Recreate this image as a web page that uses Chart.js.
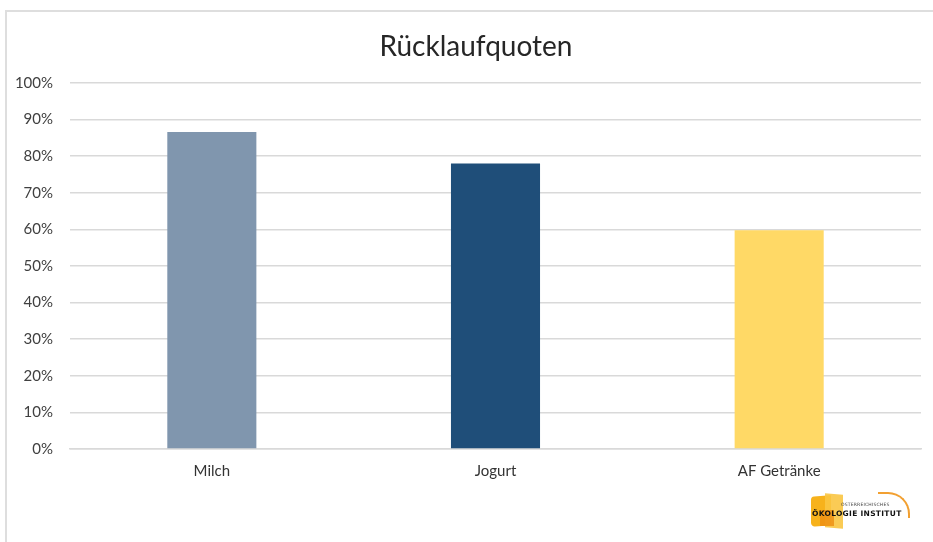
<!DOCTYPE html>
<html lang="de">
<head>
<meta charset="UTF-8">
<title>Rücklaufquoten</title>
<script src="https://cdn.jsdelivr.net/npm/chart.js"></script>
<style>
  html, body { margin: 0; padding: 0; background: #fff; }
  #wrap { position: relative; width: 933px; height: 542px; overflow: hidden; }
  #frame { position: absolute; left: 5px; top: 10px; right: -4px; bottom: -4px;
           border-top: 2px solid #dedede; border-left: 2px solid #dedede; pointer-events: none; }
  #titel { position: absolute; left: 276px; width: 400px; top: 28px; text-align: center;
           font-family: Lato, "Open Sans", sans-serif; font-size: 28px; line-height: 34px; color: #262626; }
  #logo { position: absolute; left: 808px; top: 490px; width: 110px; height: 44px; font-family: "DejaVu Sans", sans-serif; }
  #logo .blk1 { position: absolute; left: 3px; top: 6px; width: 20px; height: 30px; background: #f7b21b; border-radius: 3px 1px 2px 4px; transform: skewY(-4deg); }
  #logo .blk2 { position: absolute; left: 17px; top: 4px; width: 18px; height: 34px; background: #f9c542; transform: skewY(5deg); opacity: .9; }
  #logo .blk3 { position: absolute; left: 12px; top: 20px; width: 14px; height: 16px; background: #ee8d12; opacity: .8; }
  #logo .arc { position: absolute; left: 70px; top: 2px; width: 30px; height: 24px; border-top: 2px solid #f2a031; border-right: 2px solid #f2a031; border-radius: 0 22px 0 0; }
  #logo .small { position: absolute; left: 33px; top: 12px; font-size: 4.5px; color: #444; letter-spacing: .2px; }
  #logo .big { position: absolute; left: 4px; top: 19px; font-size: 7.5px; font-weight: bold; color: #111; letter-spacing: .3px; white-space: nowrap; }
</style>
</head>
<body>
<div id="wrap">
  <canvas id="myChart" width="933" height="542"></canvas>
  <div id="frame"></div>
  <div id="titel">Rücklaufquoten</div>
  <div id="logo">
    <div class="blk1"></div><div class="blk2"></div><div class="blk3"></div>
    <div class="arc"></div>
    <div class="small">ÖSTERREICHISCHES</div>
    <div class="big">ÖKOLOGIE INSTITUT</div>
  </div>
</div>

<script>
  // Daten
  var kategorien = ["Milch", "Jogurt", "AF Getränke"];
  var quoten = [0.866, 0.78, 0.598];
  var farben = ["#8096ae", "#1f4e79", "#ffd966"];
  var yTicks = [0, 0.1, 0.2, 0.3, 0.4, 0.5, 0.6, 0.7, 0.8, 0.9, 1.0];

  var schrift = "Lato, 'Open Sans', sans-serif";

  const config = {
    type: 'bar',
    data: {
      labels: kategorien,
      datasets: [{
        label: 'Rücklaufquote',
        data: quoten,
        backgroundColor: farben,
        borderWidth: 0,
        barPercentage: 1,
        categoryPercentage: 0.314
      }]
    },
    options: {
      responsive: false,
      animation: false,
      // Titel sitzt als HTML darüber (im Original leicht rechts der Mitte)
      layout: { padding: { left: 12, right: 12, top: 83, bottom: 0 } },
      plugins: {
        legend: { display: false },
        tooltip: { enabled: false },
        title: { display: false }
      },
      scales: {
        x: {
          grid: { display: false, drawTicks: false },
          border: { display: true, color: '#d9d9d9', width: 1.5 },
          ticks: {
            color: '#333333',
            font: { family: schrift, size: 15 },
            padding: 13
          },
          afterFit: function (scale) { scale.height = 93; }
        },
        y: {
          min: 0,
          max: 1,
          afterBuildTicks: function (scale) {
            scale.ticks = yTicks.map(function (v) { return { value: v }; });
          },
          grid: { color: '#d9d9d9', lineWidth: 1.5, drawTicks: false },
          border: { display: false },
          ticks: {
            color: '#404040',
            font: { family: schrift, size: 15 },
            padding: 17,
            callback: function (v) { return Math.round(v * 100) + '%'; }
          },
          afterFit: function (scale) { scale.width = 58; }
        }
      }
    }
  };

  let myChart = new Chart(document.getElementById('myChart'), config);
</script>
</body>
</html>
